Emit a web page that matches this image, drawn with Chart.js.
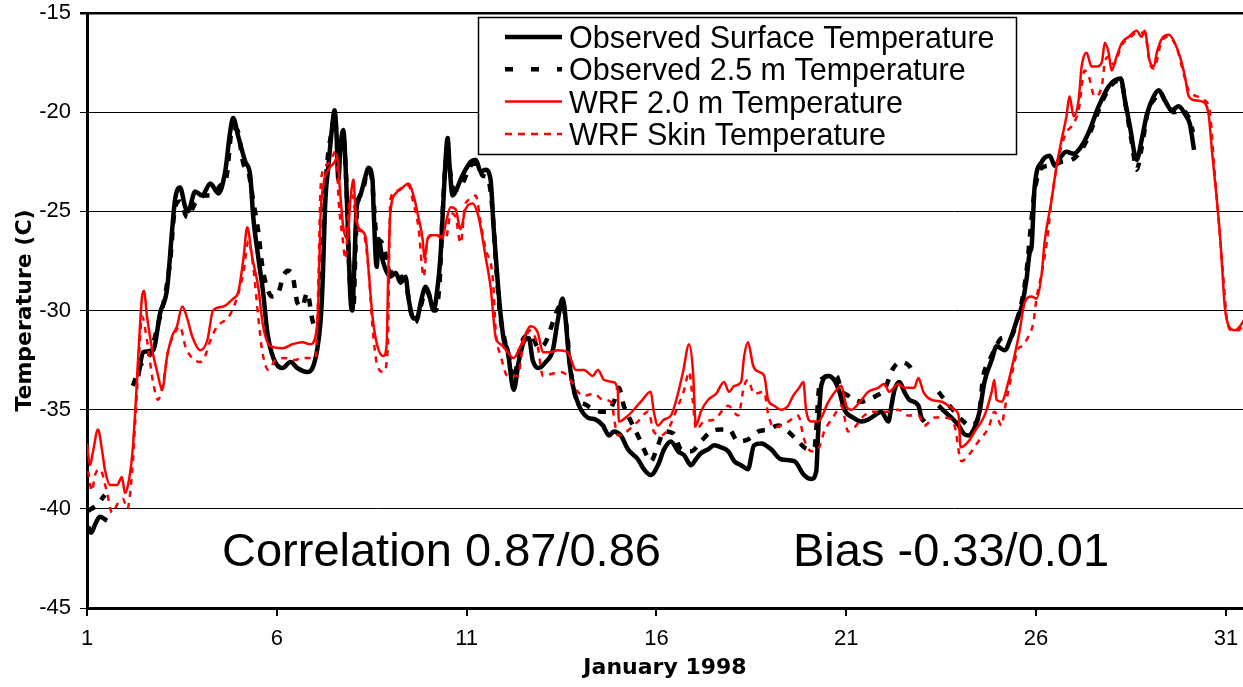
<!DOCTYPE html>
<html>
<head>
<meta charset="utf-8">
<script src="https://cdn.jsdelivr.net/npm/chart.js@4.4.1/dist/chart.umd.min.js"></script>
<style>
  html, body { margin: 0; padding: 0; background: #fff; }
  #wrap { position: relative; width: 1243px; height: 687px; }
</style>
</head>
<body>
<div id="wrap"><canvas id="chart" width="1243" height="687"></canvas></div>
<script>
// Hourly-ish temperature traces, January 1998, as [day of month, temperature °C].
// A null temperature marks a gap in the record.
const dayTicks = [1, 6, 11, 16, 21, 26, 31];

const obsSurface = [
  [1.03,-40.9],[1.11,-41.2],[1.21,-40.8],[1.34,-40.4],[1.53,-40.6],[1.90,null],
  [2.35,-33.3],[2.48,-32.1],[2.74,-32.0],[2.93,-30.1],[3.11,-28.9],[3.24,-26.0],[3.32,-24.4],[3.45,-23.8],
  [3.59,-24.8],[3.66,-25.0],[3.85,-24.0],[4.03,-24.2],[4.25,-23.6],[4.46,-24.1],[4.64,-23.0],[4.77,-21.0],
  [4.85,-20.3],[4.98,-21.2],[5.17,-22.5],[5.30,-23.2],[5.38,-25.3],[5.51,-27.3],[5.64,-29.1],[5.75,-31.1],
  [5.91,-32.4],[6.15,-32.9],[6.36,-32.6],[6.54,-32.9],[6.80,-33.1],[6.94,-32.9],[7.07,-31.9],[7.15,-30.6],
  [7.20,-28.9],[7.28,-24.4],[7.36,-22.7],[7.46,-20.7],[7.52,-19.9],[7.57,-21.0],[7.62,-23.4],[7.68,-21.7],
  [7.75,-20.9],[7.83,-23.6],[7.89,-26.9],[7.94,-29.4],[7.99,-30.0],[8.04,-27.8],[8.10,-24.9],[8.20,-24.2],
  [8.34,-23.2],[8.41,-22.8],[8.52,-23.4],[8.55,-24.9],[8.63,-27.8],[8.68,-26.4],[8.78,-27.4],[8.86,-27.9],
  [8.99,-28.3],[9.13,-28.1],[9.26,-28.6],[9.39,-28.3],[9.47,-29.4],[9.60,-30.4],[9.71,-30.3],[9.79,-29.6],
  [9.92,-28.8],[10.00,-29.1],[10.13,-30.0],[10.23,-28.9],[10.31,-27.3],[10.39,-24.4],[10.47,-21.7],[10.50,-21.3],
  [10.55,-22.7],[10.63,-24.2],[10.71,-24.0],[10.84,-23.4],[10.97,-22.9],[11.11,-22.5],[11.24,-22.4],[11.37,-23.0],
  [11.50,-22.9],[11.63,-23.4],[11.71,-25.8],[11.82,-28.6],[11.90,-30.3],[11.98,-31.5],[12.08,-32.0],[12.24,-34.0],
  [12.37,-32.6],[12.50,-31.6],[12.64,-31.4],[12.74,-32.5],[12.90,-32.9],[13.08,-32.6],[13.27,-32.0],[13.40,-30.5],
  [13.53,-29.4],[13.61,-30.5],[13.69,-32.3],[13.80,-33.8],[13.96,-34.8],[14.19,-35.4],[14.40,-35.5],[14.59,-35.8],
  [14.75,-36.3],[14.88,-36.1],[15.06,-36.3],[15.25,-37.0],[15.51,-37.5],[15.67,-38.0],[15.85,-38.3],[16.04,-37.8],
  [16.20,-37.0],[16.38,-36.6],[16.57,-37.1],[16.73,-37.3],[16.91,-37.8],[17.04,-37.5],[17.17,-37.2],[17.36,-37.0],
  [17.52,-36.8],[17.70,-36.9],[17.89,-37.1],[18.05,-37.6],[18.23,-37.8],[18.41,-38.0],[18.57,-36.8],[18.76,-36.7],
  [19.02,-37.0],[19.28,-37.5],[19.63,-37.6],[19.89,-38.3],[20.08,-38.5],[20.21,-38.1],[20.26,-36.1],[20.34,-33.8],
  [20.53,-33.3],[20.68,-33.5],[20.82,-34.1],[20.95,-35.0],[21.18,-35.4],[21.40,-35.6],[21.58,-35.5],[21.74,-35.3],
  [21.92,-35.1],[22.11,-35.6],[22.19,-34.8],[22.27,-34.0],[22.40,-33.6],[22.53,-34.1],[22.66,-34.5],[22.90,-34.8],
  [22.98,-35.4],[23.06,-35.6],[23.25,null],
  [23.43,-34.8],[23.59,-35.1],[23.77,-35.4],[23.96,-35.8],[24.09,-36.2],[24.22,-36.3],[24.38,-35.9],[24.51,-35.1],
  [24.64,-33.6],[24.83,-32.5],[24.96,-31.8],[25.17,-32.0],[25.35,-31.3],[25.49,-30.5],[25.62,-29.8],[25.75,-28.4],
  [25.83,-27.1],[25.88,-26.8],[25.96,-23.8],[26.15,-22.5],[26.36,-22.2],[26.49,-22.7],[26.67,-22.2],[26.80,-22.0],
  [26.99,-22.1],[27.20,-21.7],[27.39,-21.0],[27.65,-19.7],[27.91,-18.7],[28.07,-18.4],[28.23,-18.3],[28.34,-19.4],
  [28.47,-20.7],[28.65,-22.4],[28.78,-21.4],[28.92,-20.1],[29.10,-19.2],[29.23,-18.9],[29.39,-19.4],[29.57,-19.9],
  [29.76,-19.7],[29.92,-20.1],[30.05,-20.6],[30.16,-21.9]
];

const obs25m = [
  [1.03,-40.1],[1.26,-39.8],[1.47,-39.3],[1.80,null],
  [2.21,-33.8],[2.40,-32.8],[2.66,-32.2],[2.87,-30.7],[3.06,-29.2],[3.19,-27.5],[3.32,-24.8],[3.45,-24.5],
  [3.64,-25.3],[3.85,-24.6],[4.11,-24.2],[4.30,-24.2],[4.51,-23.7],[4.67,-23.3],[4.83,-20.8],[4.96,-20.9],
  [5.12,-22.6],[5.25,-23.0],[5.38,-24.5],[5.51,-26.0],[5.62,-27.8],[5.75,-28.9],[5.88,-29.3],[6.04,-29.1],
  [6.17,-28.3],[6.28,-28.0],[6.41,-28.2],[6.54,-29.6],[6.67,-29.8],[6.80,-29.1],[6.94,-30.5],[7.04,-31.0],
  [7.15,-30.0],[7.23,-26.0],[7.31,-23.0],[7.44,-21.0],[7.52,-20.2],[7.60,-21.5],[7.68,-21.5],[7.75,-21.2],
  [7.83,-23.5],[7.89,-27.0],[7.94,-29.0],[8.02,-29.8],[8.07,-27.0],[8.12,-24.8],[8.26,-24.0],[8.39,-23.0],
  [8.49,-23.2],[8.57,-25.0],[8.65,-27.0],[8.73,-26.5],[8.84,-27.0],[8.99,-28.1],[9.15,-28.0],[9.31,-28.4],
  [9.42,-28.8],[9.52,-30.0],[9.65,-30.6],[9.79,-29.8],[9.92,-29.0],[10.05,-29.4],[10.18,-30.0],[10.29,-28.5],
  [10.37,-25.0],[10.47,-22.3],[10.55,-22.8],[10.63,-23.8],[10.76,-23.9],[10.89,-23.6],[11.03,-23.0],[11.16,-22.6],
  [11.29,-22.6],[11.42,-23.2],[11.55,-23.3],[11.66,-24.5],[11.77,-27.5],[11.87,-30.0],[11.98,-31.3],[12.11,-32.3],
  [12.24,-33.5],[12.37,-32.2],[12.50,-31.4],[12.69,-31.2],[12.90,-31.9],[13.08,-31.6],[13.27,-30.6],[13.43,-29.8],
  [13.53,-29.6],[13.64,-31.0],[13.74,-33.0],[13.88,-34.4],[14.09,-34.7],[14.27,-34.9],[14.54,-35.1],[14.72,-35.1],
  [14.88,-34.6],[15.01,-33.9],[15.14,-34.8],[15.33,-35.6],[15.51,-36.3],[15.67,-37.0],[15.85,-37.6],[16.04,-36.8],
  [16.20,-36.1],[16.44,-36.2],[16.65,-37.0],[16.91,-37.1],[17.17,-36.6],[17.44,-36.1],[17.70,-36.0],[17.91,-36.0],
  [18.15,-36.6],[18.41,-36.5],[18.68,-36.1],[18.94,-36.0],[19.21,-35.8],[19.47,-36.1],[19.73,-36.6],[20.00,-37.0],
  [20.16,-36.9],[20.29,-33.8],[20.39,-33.4],[20.53,-33.3],[20.74,-33.3],[20.87,-34.0],[21.05,-34.3],[21.21,-34.5],
  [21.40,-34.6],[21.58,-34.5],[21.79,-34.3],[22.00,-34.0],[22.24,-32.9],[22.45,-32.6],[22.66,-32.8],[22.79,-33.2],
  [23.10,null],
  [23.43,-34.1],[23.59,-34.5],[23.85,-35.1],[24.09,-35.6],[24.25,-35.8],[24.48,-35.4],[24.61,-33.3],[24.75,-32.6],
  [24.90,-32.0],[25.09,-31.4],[25.35,-31.3],[25.49,-30.5],[25.62,-29.6],[25.75,-28.0],[25.85,-26.0],[25.96,-24.0],
  [26.15,-22.8],[26.41,-22.7],[26.67,-22.5],[26.94,-22.4],[27.20,-21.9],[27.47,-20.8],[27.73,-19.5],[28.00,-18.6],
  [28.23,-18.4],[28.37,-19.8],[28.52,-21.5],[28.65,-22.9],[28.78,-21.8],[28.94,-20.0],[29.13,-19.3],[29.26,-19.0],
  [29.44,-19.6],[29.63,-20.0],[29.84,-19.9],[30.05,-20.4],[30.13,-21.0]
];

const wrf2m = [
  [1.00,-36.7],[1.08,-37.8],[1.16,-37.1],[1.29,-36.0],[1.40,-37.1],[1.47,-38.0],[1.61,-38.8],[1.79,-38.8],
  [1.92,-38.4],[2.00,-39.2],[2.08,-38.8],[2.19,-37.3],[2.27,-35.1],[2.35,-32.3],[2.45,-29.3],[2.50,-29.0],
  [2.58,-30.3],[2.72,-32.0],[2.85,-33.1],[2.98,-34.0],[3.11,-32.3],[3.24,-31.3],[3.37,-30.8],[3.51,-29.8],
  [3.64,-30.4],[3.77,-31.3],[3.98,-32.0],[4.17,-31.5],[4.32,-30.0],[4.59,-29.8],[4.85,-29.4],[4.98,-29.1],
  [5.12,-27.4],[5.22,-25.8],[5.35,-27.3],[5.51,-28.8],[5.64,-30.8],[5.83,-31.8],[6.15,-31.9],[6.41,-31.7],
  [6.67,-31.6],[6.88,-31.7],[7.02,-31.3],[7.09,-29.8],[7.15,-25.3],[7.23,-23.6],[7.36,-22.9],[7.49,-22.6],
  [7.60,-22.3],[7.65,-23.6],[7.75,-25.8],[7.86,-26.4],[7.94,-24.4],[8.02,-23.4],[8.07,-24.9],[8.15,-25.8],
  [8.34,-26.3],[8.41,-27.8],[8.52,-30.3],[8.65,-31.8],[8.81,-32.3],[8.89,-31.8],[8.94,-27.8],[8.99,-25.1],
  [9.13,-24.1],[9.26,-23.9],[9.47,-23.6],[9.60,-24.2],[9.73,-25.3],[9.84,-26.4],[9.89,-27.4],[9.97,-26.4],
  [10.05,-26.2],[10.23,-26.2],[10.37,-26.3],[10.45,-25.6],[10.58,-24.8],[10.71,-24.9],[10.84,-25.9],[10.97,-24.9],
  [11.16,-24.6],[11.29,-25.1],[11.37,-25.8],[11.50,-27.3],[11.63,-28.8],[11.77,-31.4],[11.90,-31.7],[12.08,-32.1],
  [12.24,-32.4],[12.42,-31.8],[12.69,-30.8],[12.87,-31.1],[13.01,-32.1],[13.22,-32.1],[13.40,-32.0],[13.66,-32.1],
  [13.88,-33.0],[14.09,-33.0],[14.32,-33.3],[14.46,-33.0],[14.62,-33.5],[14.85,-33.6],[14.98,-34.0],[15.01,-35.6],
  [15.25,-35.3],[15.59,-34.6],[15.85,-34.1],[15.93,-35.1],[16.04,-35.8],[16.20,-35.5],[16.38,-35.3],[16.51,-34.6],
  [16.70,-33.1],[16.86,-31.7],[16.96,-33.0],[17.04,-35.8],[17.17,-35.1],[17.36,-34.5],[17.57,-34.2],[17.78,-33.6],
  [17.91,-34.1],[18.05,-33.8],[18.23,-33.6],[18.31,-32.3],[18.41,-31.6],[18.55,-32.8],[18.70,-33.1],[18.84,-33.3],
  [18.94,-34.5],[19.10,-34.8],[19.28,-35.0],[19.47,-34.8],[19.60,-34.3],[19.76,-33.9],[19.87,-33.6],[19.94,-35.0],
  [20.08,-35.6],[20.26,-35.6],[20.53,-34.6],[20.79,-33.9],[20.87,-33.8],[21.00,-34.8],[21.13,-35.0],[21.40,-34.5],
  [21.58,-34.1],[21.84,-33.9],[22.00,-33.7],[22.13,-34.1],[22.37,-33.7],[22.53,-33.9],[22.79,-33.9],[22.90,-33.4],
  [23.03,-34.1],[23.24,-34.5],[23.51,-34.6],[23.85,-35.0],[23.96,-35.3],[24.01,-36.9],[24.22,-36.6],[24.38,-36.1],
  [24.64,-35.3],[24.83,-34.1],[24.90,-33.5],[24.96,-34.5],[25.09,-34.6],[25.27,-33.6],[25.43,-32.3],[25.56,-31.1],
  [25.70,-29.6],[25.88,-29.3],[26.01,-29.4],[26.15,-28.1],[26.22,-26.6],[26.41,-24.4],[26.54,-22.7],[26.67,-21.4],
  [26.80,-20.2],[26.88,-19.2],[26.99,-20.2],[27.12,-19.4],[27.20,-17.7],[27.33,-17.0],[27.46,-17.7],[27.60,-17.7],
  [27.73,-17.5],[27.81,-16.5],[27.91,-17.0],[27.99,-17.9],[28.12,-17.2],[28.26,-16.5],[28.44,-16.2],[28.65,-15.9],
  [28.78,-16.2],[28.86,-15.9],[28.99,-17.4],[29.10,-17.7],[29.18,-17.0],[29.31,-16.3],[29.50,-16.1],[29.65,-16.5],
  [29.79,-17.2],[29.92,-18.2],[30.02,-19.2],[30.18,-19.4],[30.42,-19.5],[30.55,-20.2],[30.63,-21.9],[30.76,-24.4],
  [30.84,-26.1],[30.89,-27.5],[30.97,-29.8],[31.08,-30.8],[31.24,-31.0],[31.37,-30.8],[31.50,-30.4]
];

const wrfSkin = [
  [1.03,-38.1],[1.13,-39.1],[1.21,-38.3],[1.34,-38.0],[1.53,-39.2],[1.66,-40.2],[1.82,-39.7],[1.95,-39.5],
  [2.06,-40.0],[2.19,-38.1],[2.27,-35.6],[2.35,-33.0],[2.45,-30.3],[2.58,-31.5],[2.74,-33.6],[2.87,-34.5],
  [3.01,-33.6],[3.14,-32.0],[3.27,-31.3],[3.45,-30.8],[3.59,-31.8],[3.77,-32.4],[3.98,-32.6],[4.11,-32.3],
  [4.25,-31.5],[4.43,-30.8],[4.69,-30.4],[4.85,-29.9],[5.12,-28.1],[5.25,-26.5],[5.38,-27.8],[5.51,-30.3],
  [5.62,-32.1],[5.78,-33.0],[5.96,-32.5],[6.22,-32.4],[6.49,-32.5],[6.62,-32.4],[7.02,-32.4],[7.09,-29.0],
  [7.15,-23.9],[7.23,-22.9],[7.41,-22.5],[7.57,-21.9],[7.62,-24.2],[7.73,-26.3],[7.81,-27.4],[7.89,-24.9],
  [7.99,-24.2],[8.12,-25.9],[8.28,-26.1],[8.41,-27.8],[8.52,-30.8],[8.65,-32.8],[8.81,-33.1],[8.92,-32.0],
  [8.99,-24.4],[9.13,-24.0],[9.31,-23.8],[9.47,-23.7],[9.60,-24.6],[9.73,-25.8],[9.87,-28.3],[9.97,-26.4],
  [10.13,-26.2],[10.31,-26.3],[10.45,-26.4],[10.58,-25.1],[10.71,-25.3],[10.84,-26.6],[10.97,-24.6],[11.11,-24.4],
  [11.24,-24.2],[11.37,-25.6],[11.50,-26.9],[11.69,-28.4],[11.77,-31.1],[11.90,-32.3],[12.08,-33.3],[12.35,-33.3],
  [12.48,-31.8],[12.69,-31.0],[12.87,-31.8],[13.01,-33.3],[13.22,-33.2],[13.48,-33.1],[13.66,-33.3],[13.93,-34.1],
  [14.09,-34.3],[14.35,-34.2],[14.59,-34.5],[14.80,-34.6],[14.98,-36.3],[15.14,-36.2],[15.51,-35.6],[15.78,-35.1],
  [15.93,-36.1],[16.12,-36.3],[16.33,-35.9],[16.51,-35.1],[16.73,-34.0],[16.86,-33.1],[16.96,-34.6],[17.04,-36.0],
  [17.25,-35.6],[17.52,-35.5],[17.89,-34.8],[18.15,-35.3],[18.31,-33.8],[18.41,-33.5],[18.57,-34.2],[18.84,-34.1],
  [18.94,-35.2],[19.10,-35.9],[19.47,-35.6],[19.73,-35.3],[19.89,-36.5],[20.08,-37.1],[20.26,-37.0],[20.42,-36.1],
  [20.68,-35.3],[20.87,-34.8],[21.05,-36.1],[21.21,-35.9],[21.47,-35.3],[21.74,-35.1],[22.11,-35.1],[22.37,-35.0],
  [22.64,-35.3],[22.90,-35.3],[23.06,-35.8],[23.32,-35.4],[23.59,-35.4],[23.85,-35.8],[24.03,-37.6],[24.22,-37.3],
  [24.48,-36.6],[24.75,-35.9],[24.90,-35.1],[25.09,-35.8],[25.17,-35.0],[25.35,-33.3],[25.54,-31.9],[25.62,-31.8],
  [25.80,-31.3],[25.93,-30.6],[26.01,-29.4],[26.15,-28.1],[26.28,-26.6],[26.41,-24.4],[26.54,-22.8],[26.67,-21.7],
  [26.80,-21.0],[26.94,-20.7],[27.12,-19.9],[27.28,-17.9],[27.39,-18.2],[27.54,-19.2],[27.73,-18.7],[27.81,-17.5],
  [27.91,-17.2],[28.04,-17.6],[28.26,-16.6],[28.44,-16.3],[28.65,-16.0],[28.86,-16.0],[28.99,-17.5],[29.10,-17.8],
  [29.31,-16.4],[29.50,-16.2],[29.71,-16.8],[29.92,-18.3],[30.02,-18.9],[30.44,-19.4],[30.58,-20.0],[30.68,-22.5],
  [30.81,-25.5],[30.94,-28.5],[31.03,-30.5],[31.16,-31.0],[31.32,-31.0],[31.50,-30.6]
];

const seriesLabels = [
  'Observed Surface Temperature',
  'Observed 2.5 m Temperature',
  'WRF 2.0 m Temperature',
  'WRF Skin Temperature'
];
const statsText = ['Correlation 0.87/0.86', 'Bias -0.33/0.01'];

const SANS = '"Liberation Sans", Arial, Helvetica, sans-serif';
const WIDE_BOLD = '"DejaVu Sans", Verdana, sans-serif';

const toPoints = pairs => pairs.map(([x, y]) => ({ x, y }));

// Boxed legend sitting inside the plot, upper middle-right
const insetLegend = {
  id: 'insetLegend',
  afterDatasetsDraw(chart) {
    const ctx = chart.ctx;
    const bx = 478, by = 17, bw = 538, bh = 137;
    ctx.save();
    ctx.fillStyle = '#fff';
    ctx.fillRect(bx, by, bw, bh);
    ctx.strokeStyle = '#000';
    ctx.lineWidth = 1.5;
    ctx.strokeRect(bx + 0.5, by + 0.5, bw, bh);
    chart.data.datasets.forEach((ds, i) => {
      const cy = 37 + i * 32.3;
      ctx.strokeStyle = ds.borderColor;
      ctx.lineWidth = ds.borderWidth;
      ctx.setLineDash(ds.legendDash || ds.borderDash || []);
      ctx.beginPath();
      ctx.moveTo(505, cy);
      ctx.lineTo(562, cy);
      ctx.stroke();
      ctx.setLineDash([]);
      ctx.fillStyle = '#000';
      ctx.font = '30.5px ' + SANS;
      ctx.textAlign = 'left';
      ctx.textBaseline = 'alphabetic';
      ctx.fillText(ds.label, 569, cy + 11);
    });
    ctx.restore();
  }
};

// Verification statistics written across the lower part of the plot
const statsNote = {
  id: 'statsNote',
  afterDatasetsDraw(chart) {
    const ctx = chart.ctx;
    ctx.save();
    ctx.fillStyle = '#000';
    ctx.font = '47px ' + SANS;
    ctx.textAlign = 'left';
    ctx.textBaseline = 'alphabetic';
    ctx.fillText(statsText[0], 222, 566);
    ctx.fillText(statsText[1], 793, 566);
    ctx.restore();
  }
};

const common = {
  pointRadius: 0,
  pointHoverRadius: 0,
  fill: false,
  spanGaps: false,
  cubicInterpolationMode: 'monotone',
  borderJoinStyle: 'round',
  borderCapStyle: 'butt'
};

new Chart(document.getElementById('chart'), {
  type: 'line',
  data: {
    datasets: [
      { ...common, label: seriesLabels[0], data: toPoints(obsSurface),
        borderColor: '#000', borderWidth: 4.5, order: 4 },
      { ...common, label: seriesLabels[1], data: toPoints(obs25m),
        borderColor: '#000', borderWidth: 4.5, borderDash: [8, 9], legendDash: [8, 18], order: 3 },
      { ...common, label: seriesLabels[2], data: toPoints(wrf2m),
        borderColor: '#ff0000', borderWidth: 2.5, order: 2 },
      { ...common, label: seriesLabels[3], data: toPoints(wrfSkin),
        borderColor: '#ff0000', borderWidth: 2.5, borderDash: [6, 6], legendDash: [7, 6], order: 1 }
    ]
  },
  options: {
    responsive: false,
    animation: false,
    devicePixelRatio: 1,
    events: [],
    layout: { padding: { top: 13, right: 0, bottom: 0, left: 0 } },
    plugins: { legend: { display: false }, tooltip: { enabled: false } },
    scales: {
      x: {
        type: 'linear',
        min: 1,
        max: 31.45,
        afterBuildTicks: s => { s.ticks = dayTicks.map(v => ({ value: v })); },
        afterFit: s => { s.height = 79; s.paddingLeft = 0; s.paddingRight = 0; },
        grid: { drawOnChartArea: false, drawTicks: true, tickLength: 8, color: '#000', lineWidth: 2 },
        border: { color: '#000', width: 3 },
        ticks: {
          color: '#000',
          font: { family: SANS, size: 22 },
          padding: 10,
          maxRotation: 0,
          autoSkip: false,
          callback: v => String(v)
        },
        title: {
          display: true,
          text: 'January 1998',
          color: '#000',
          font: { family: WIDE_BOLD, size: 22, weight: 'bold' },
          padding: { top: 0, bottom: 6 }
        }
      },
      y: {
        min: -45,
        max: -15,
        afterFit: s => { s.width = 87; s.paddingTop = 0; s.paddingBottom = 0; },
        grid: {
          color: '#000',
          lineWidth: c => (c.tick && c.tick.value === -15 ? 2.5 : 1),
          tickLength: 7
        },
        border: { color: '#000', width: 3 },
        ticks: {
          stepSize: 5,
          color: '#000',
          font: { family: SANS, size: 22 },
          padding: 9
        },
        title: {
          display: true,
          text: 'Temperature (C)',
          color: '#000',
          font: { family: WIDE_BOLD, size: 22, weight: 'bold' },
          padding: { top: 12, bottom: 0 }
        }
      }
    }
  },
  plugins: [insetLegend, statsNote]
});
</script>
</body>
</html>
